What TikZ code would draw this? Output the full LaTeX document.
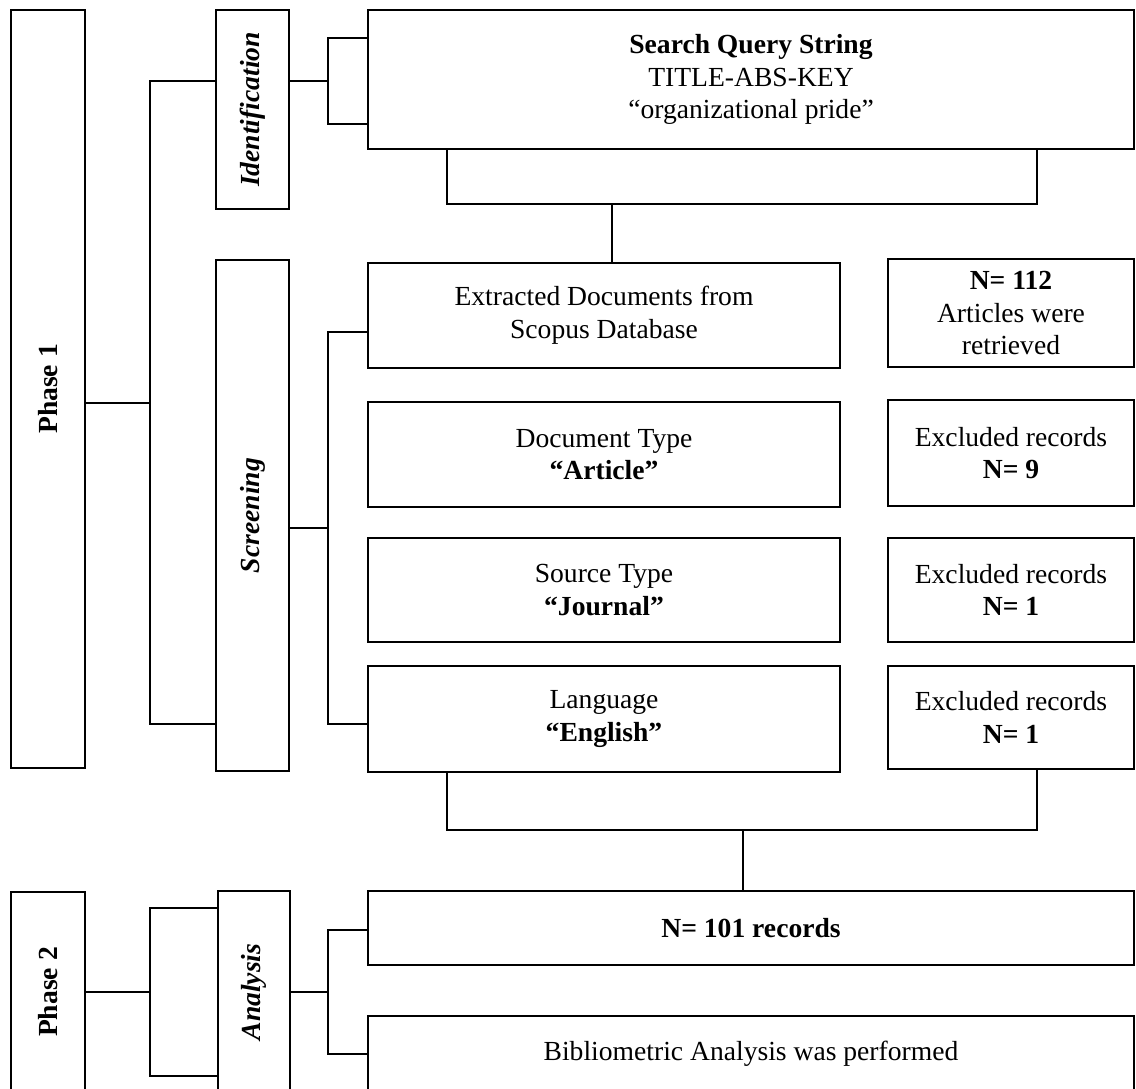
\documentclass[tikz,border=0pt]{standalone}
\usepackage{fontspec}
\setmainfont{Liberation Serif}
\usetikzlibrary{positioning, calc}

\begin{document}
\begin{tikzpicture}[x=0.5pt, y=-0.5pt,
    box/.style={rectangle, draw, line width=1.45pt, inner sep=0pt, outer sep=0pt, align=center, font=\fontsize{13.8}{16.4}\selectfont},
    sidebox/.style={box, minimum width=36.5pt},
    stepbox/.style={box, minimum width=236pt, minimum height=52.5pt},
    exbox/.style={box, minimum width=123pt, minimum height=53pt},
    widebox/.style={box, minimum width=383pt},
    link/.style={line width=0.8pt}
]
\useasboundingbox (0,0) rectangle (1136,1088);
\clip (0,0) rectangle (1136,1088);

% phases and stages
\node[sidebox, minimum width=37pt, minimum height=379pt] (ph1) at (48,389) {\rotatebox{90}{\textbf{Phase 1}}};
\node[sidebox, minimum height=99.5pt] (idf) at (252.5,109.5) {\rotatebox{90}{\textbf{\textit{Identification}}}};
\node[sidebox, minimum height=255.5pt] (scr) at (252.5,515.5) {\rotatebox{90}{\textbf{\textit{Screening}}}};
\node[sidebox, minimum width=37pt, minimum height=100pt] (ph2) at (48,992) {\rotatebox{90}{\textbf{Phase 2}}};
\node[sidebox, minimum width=36pt, minimum height=101pt] (ana) at (254,992) {\rotatebox{90}{\textbf{\textit{Analysis}}}};

% steps
\node[widebox, minimum height=69.5pt] (query) at (751,79.5) {\textbf{Search Query String}\\TITLE-ABS-KEY\\“organizational pride”};
\node[stepbox] (extr) at (604,315.5) {Extracted Documents from\\Scopus Database};
\node[exbox, minimum height=54pt] (n112) at (1011,313) {\textbf{N= 112}\\Articles were\\retrieved};
\node[stepbox] (doct) at (604,454.5) {Document Type\\\textbf{“Article”}};
\node[exbox] (exa) at (1011,453) {Excluded records\\\textbf{N= 9}};
\node[stepbox, minimum height=52pt] (srct) at (604,590) {Source Type\\\textbf{“Journal”}};
\node[exbox, minimum height=52pt] (exb) at (1011,590) {Excluded records\\\textbf{N= 1}};
\node[stepbox, minimum height=53pt] (lang) at (604,719) {Language\\\textbf{“English”}};
\node[exbox, minimum height=51.5pt] (exc) at (1011,717.5) {Excluded records\\\textbf{N= 1}};
\node[widebox, minimum height=37pt] (n101) at (751,928) {\textbf{N= 101 records}};
\node[widebox, minimum height=38pt] (biblio) at (751,1054) {Bibliometric Analysis was performed};

% brackets
\draw[link] (ph1.east |- 0,403) -- (150,403);
\draw[link] (idf.west |- 0,81) -| (150,724) -- (scr.west |- 0,724);
\draw[link] (idf.east |- 0,81) -- (328,81);
\draw[link] (query.west |- 0,38) -| (328,124) -- (query.west |- 0,124);
\draw[link] (query.south -| 447,0) -- (447,204) -| (query.south -| 1037,0);
\draw[link] (612,204) -- (extr.north -| 612,0);
\draw[link] (scr.east |- 0,528) -- (328,528);
\draw[link] (extr.west |- 0,332) -| (328,724) -- (lang.west |- 0,724);
\draw[link] (lang.south -| 447,0) -- (447,830) -| (exc.south -| 1037,0);
\draw[link] (743,830) -- (n101.north -| 743,0);
\draw[link] (ph2.east |- 0,992) -- (150,992);
\draw[link] (ana.west |- 0,908) -| (150,1076) -- (ana.west |- 0,1076);
\draw[link] (ana.east |- 0,992) -- (328,992);
\draw[link] (n101.west |- 0,930) -| (328,1054) -- (biblio.west |- 0,1054);
\end{tikzpicture}
\end{document}
